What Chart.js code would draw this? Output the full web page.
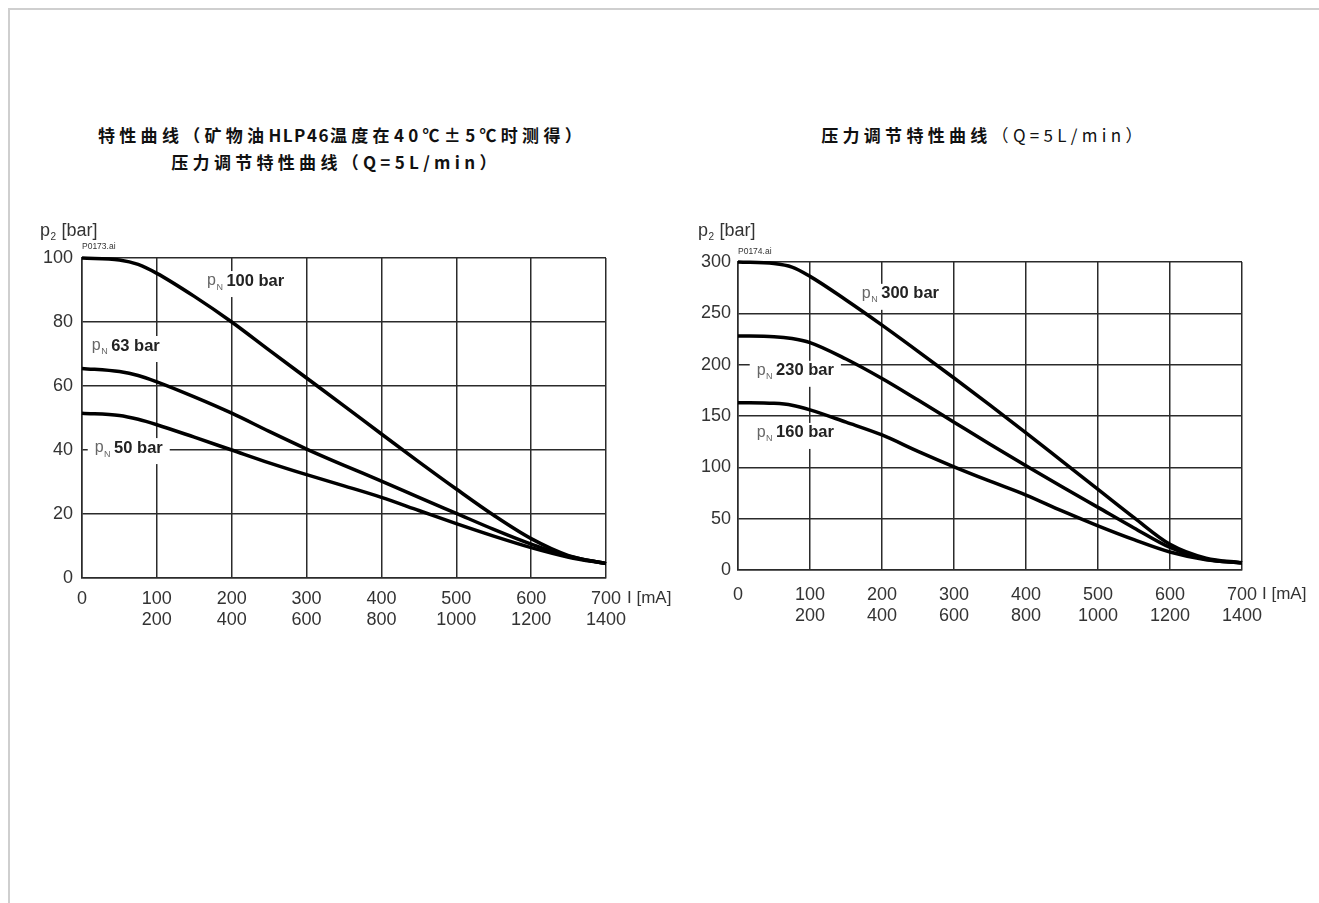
<!DOCTYPE html>
<html><head><meta charset="utf-8">
<script src="https://cdn.jsdelivr.net/npm/chart.js@4/dist/chart.umd.min.js"></script>
<style>
body{margin:0;background:#fff;width:1319px;height:903px;overflow:hidden;position:relative;font-family:"Liberation Sans",Arial,sans-serif;}
#frame{position:absolute;left:8px;top:8px;width:1311px;height:895px;border-top:2px solid #cfcfcf;border-left:2px solid #cfcfcf;box-sizing:border-box;}
.t{position:absolute;font-family:"Noto Sans CJK SC",sans-serif;font-weight:700;font-size:17px;letter-spacing:4.3px;color:#111;text-align:center;white-space:nowrap;line-height:20px;}
.t span{font-weight:400;}
.t i{font-style:normal;letter-spacing:1.5px;}
canvas{position:absolute;}
</style></head><body>
<div id="frame"></div>
<div class="t" style="left:92px;top:125px;width:500px;">特性曲线（矿物油<i>HLP46</i>温度在40℃±5℃时测得）</div>
<div class="t" style="left:86px;top:152px;width:500px;">压力调节特性曲线（Q=5L/min）</div>
<div class="t" style="left:734px;top:125px;width:500px;">压力调节特性曲线<span>（Q=5L/min）</span></div>
<canvas id="c1" width="680" height="450" style="left:0;top:200px;"></canvas>
<canvas id="c2" width="639" height="450" style="left:680px;top:200px;"></canvas>
<script>
// ---------- data ----------
const currentMA = [0, 50, 75, 100, 150, 200, 250, 300, 350, 400, 450, 500, 550, 600, 650, 700];
const xTicksLeft = [0, 100, 200, 300, 400, 500, 600, 700];

// left chart: p2 [bar]
const pN100 = [100, 99.4, 98, 95.2, 88, 80, 71.2, 62.5, 53.8, 45, 36.3, 27.8, 19.6, 12.3, 7, 4.5];
const pN63  = [65.5, 64.5, 63.3, 61.3, 56.6, 51.5, 45.8, 40.3, 35.2, 30.3, 25.2, 20.2, 15.2, 10.6, 6.8, 4.5];
const pN50  = [51.5, 50.8, 49.6, 47.9, 44, 40, 36, 32.3, 28.8, 25.2, 21.1, 17, 13.1, 9.5, 6.5, 4.5];

// right chart: p2 [bar]
const pN300 = [300, 298.5, 295, 286, 263, 238.5, 213, 187, 160.5, 133.5, 106, 78.5, 51, 25, 11.5, 7];
const pN230 = [228, 227.3, 225.5, 221.5, 205.5, 186.5, 165.5, 144, 122.5, 101.5, 81, 61, 41, 22, 10.5, 7];
const pN160 = [163, 162.3, 160.5, 156, 144, 131.5, 115.5, 100.5, 86.5, 73, 57.5, 43, 29.5, 17.5, 10, 7];

const leftYTicks = [0, 20, 40, 60, 80, 100];
const rightYTicks = [0, 50, 100, 150, 200, 250, 300];
const seriesNamesLeft = ['100 bar', '63 bar', '50 bar'];
const seriesNamesRight = ['300 bar', '230 bar', '160 bar'];

// ---------- helpers ----------
const toXY = arr => currentMA.map((x, i) => ({x, y: arr[i]}));
const GRID = '#2b2b2b';
const TXT = '#333';

const extras = {
  id: 'extras',
  beforeDatasetsDraw(chart, args, o) {
    const {ctx, scales: {x, y}} = chart;
    ctx.save();
    ctx.textBaseline = 'middle';
    o.labels.forEach(l => {
      const px = x.getPixelForValue(l.x), py = y.getPixelForValue(l.y);
      ctx.font = '16px "Liberation Sans"'; const wp = ctx.measureText('p').width;
      ctx.font = '9px "Liberation Sans"'; const wn = ctx.measureText('N').width;
      ctx.font = 'bold 16.5px "Liberation Sans"'; const wt = ctx.measureText(l.text).width;
      const total = wp + wn + 4 + wt;
      ctx.fillStyle = '#fff';
      ctx.fillRect(px - 7, py - 10, total + 14, 26);
      ctx.fillStyle = '#666';
      ctx.font = '16px "Liberation Sans"';
      ctx.fillText('p', px, py);
      ctx.font = '9px "Liberation Sans"';
      ctx.fillText('N', px + wp + 0.5, py + 6);
      ctx.fillStyle = '#222';
      ctx.font = 'bold 16.5px "Liberation Sans"';
      ctx.fillText(l.text, px + wp + wn + 4, py);
    });
    ctx.restore();
  },
  afterDraw(chart, args, o) {
    const {ctx, chartArea: a} = chart;
    ctx.save();
    ctx.fillStyle = TXT;
    ctx.textBaseline = 'middle';
    let tx = a.left + o.yTitleDx, ty = a.top + o.yTitleDy;
    ctx.font = '18px "Liberation Sans"';
    ctx.fillText('p', tx, ty);
    let w = ctx.measureText('p').width;
    ctx.font = '10px "Liberation Sans"';
    ctx.fillText('2', tx + w + 0.5, ty + 6);
    w += ctx.measureText('2').width + 1;
    ctx.font = '18px "Liberation Sans"';
    ctx.fillText(' [bar]', tx + w, ty);
    ctx.font = '8.5px "Liberation Sans"';
    ctx.fillText(o.tag, a.left, a.top + o.tagDy);
    ctx.font = '17px "Liberation Sans"';
    ctx.fillText('I [mA]', a.right + o.xUnitDx, a.bottom + o.xUnitDy);
    ctx.restore();
  }
};

function makeChart(id, sets, yTicks, yMax, pad, yW, xPad, yPad, extraOpts) {
  return new Chart(document.getElementById(id), {
    type: 'line',
    data: {
      datasets: sets.map(s => ({
        label: s.name, data: toXY(s.data), borderColor: '#000', borderWidth: 3.5,
        pointRadius: 0, cubicInterpolationMode: 'monotone', fill: false, clip: false
      }))
    },
    options: {
      responsive: false, animation: false, events: [],
      layout: {padding: pad},
      plugins: {legend: {display: false}, tooltip: {enabled: false}, title: {display: false}, extras: extraOpts},
      scales: {
        x: {
          type: 'linear', min: 0, max: 700,
          afterBuildTicks: s => { s.ticks = xTicksLeft.map(v => ({value: v})); },
          afterFit: s => { s.height = 60; },
          grid: {color: GRID, lineWidth: 1.5, drawTicks: false},
          border: {color: GRID, width: 1.5},
          ticks: {padding: xPad, color: TXT, font: {family: 'Liberation Sans', size: 18, lineHeight: 1.2},
            maxRotation: 0, autoSkip: false,
            callback: v => v === 0 ? '0' : [String(v), String(v * 2)]}
        },
        y: {
          type: 'linear', min: 0, max: yMax,
          afterBuildTicks: s => { s.ticks = yTicks.map(v => ({value: v})); },
          afterFit: s => { s.width = yW; },
          grid: {color: GRID, lineWidth: 1.5, drawTicks: false},
          border: {color: GRID, width: 1.5},
          ticks: {padding: yPad, color: TXT, font: {family: 'Liberation Sans', size: 18}, autoSkip: false}
        }
      }
    },
    plugins: [extras]
  });
}

makeChart('c1',
  [{name: seriesNamesLeft[0], data: pN100}, {name: seriesNamesLeft[1], data: pN63}, {name: seriesNamesLeft[2], data: pN50}],
  leftYTicks, 100, {left: 0, top: 58, right: 74, bottom: 12}, 82, 10, 9,
  {labels: [{x: 167, y: 92.8, text: seriesNamesLeft[0]}, {x: 13, y: 72.5, text: seriesNamesLeft[1]}, {x: 17, y: 40.6, text: seriesNamesLeft[2]}],
   yTitleDx: -42, yTitleDy: -27, tag: 'P0173.ai', tagDy: -11, xUnitDx: 21, xUnitDy: 20});

makeChart('c2',
  [{name: seriesNamesRight[0], data: pN300}, {name: seriesNamesRight[1], data: pN230}, {name: seriesNamesRight[2], data: pN160}],
  rightYTicks, 300, {left: 0, top: 62, right: 77, bottom: 20}, 58, 14, 7,
  {labels: [{x: 172, y: 269, text: seriesNamesRight[0]}, {x: 26, y: 194, text: seriesNamesRight[1]}, {x: 26, y: 133.5, text: seriesNamesRight[2]}],
   yTitleDx: -40, yTitleDy: -31, tag: 'P0174.ai', tagDy: -10, xUnitDx: 20, xUnitDy: 24});
</script>
</body></html>
